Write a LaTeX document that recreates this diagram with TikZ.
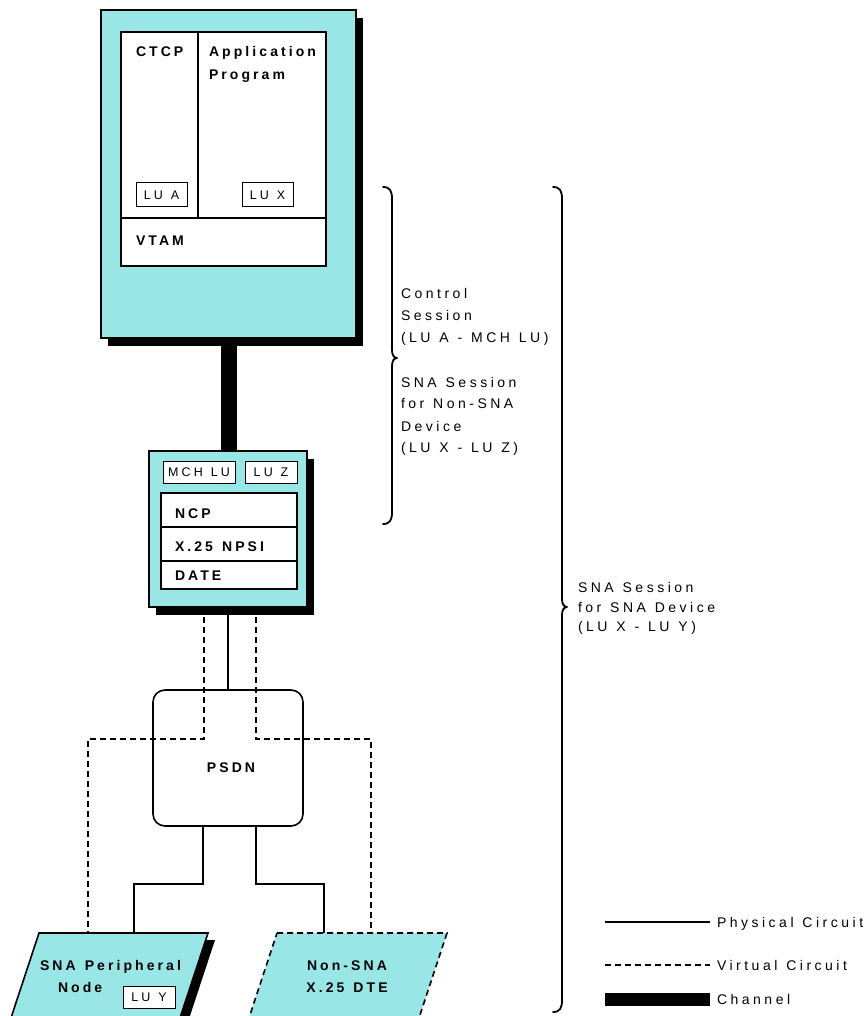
\documentclass[tikz,border=0pt]{standalone}
\usepackage{fontspec}
\setmainfont{Liberation Sans}[LetterSpace=25, WordSpace=1.2]
\newfontfamily\boldspaced{Liberation Sans Bold}[LetterSpace=22, WordSpace=1.3]
\usetikzlibrary{shadows}
\definecolor{boxcyan}{RGB}{152,230,230}
\newcommand\bracefig[4]{%
  \draw[bracepen] (#1-9,#2) .. controls (#1-2,#2) and (#1,#2+4) .. (#1,#2+12)
    -- (#1,#3-8) .. controls (#1,#3-3) and (#1+2,#3) .. (#1+5,#3)
    .. controls (#1+2,#3) and (#1,#3+3) .. (#1,#3+8)
    -- (#1,#4-12) .. controls (#1,#4-4) and (#1-2,#4) .. (#1-9,#4);}
\begin{document}
\begin{tikzpicture}[x=1pt,y=-1pt,
  base/.style={inner sep=0pt, outer sep=0pt},
  lbl/.style={base, font=\fontsize{14}{16}\selectfont, anchor=base west},
  blbl/.style={base, font=\fontsize{14}{16}\boldspaced, anchor=base west},
  cblbl/.style={base, font=\fontsize{14}{16}\boldspaced, anchor=base},
  cyanbox/.style={base, draw, line width=1.5pt, fill=boxcyan,
    drop shadow={shadow xshift=7pt, shadow yshift=-8pt, opacity=1, fill=black}},
  whitebox/.style={base, draw, fill=white, line width=1.5pt},
  lubox/.style={base, draw, fill=white, line width=1pt, font=\fontsize{12.5}{14}\selectfont},
  phys/.style={line width=1.6pt},
  virt/.style={line width=1.6pt, dash pattern=on 6pt off 4pt},
  chan/.style={line width=16pt},
  bracepen/.style={line width=1.8pt, line cap=round, line join=round}
]
\useasboundingbox (0,0) rectangle (867,1016);
\clip (0,0) rectangle (867,1016);
\fill[white] (0,0) rectangle (867,1016);

% host
\node[cyanbox, minimum width=255pt, minimum height=328pt] (host) at (228.5,174) {};
\node[whitebox, minimum width=205pt, minimum height=234pt] (hostin) at (223.5,149) {};
\draw[line width=1.2pt] (198,32) -- (198,218);
\draw[line width=1.2pt] (121,218) -- (326,218);
\node[blbl] (ctcp) at (136,57) {CTCP};
\node[blbl] (app) at (209,57) {Application};
\node[blbl] (prog) at (209,80) {Program};
\node[blbl] (vtam) at (136,245.5) {VTAM};
\node[lubox, minimum width=51pt, minimum height=24pt] (lua) at (161.5,195) {LU A};
\node[lubox, minimum width=51pt, minimum height=24pt] (lux) at (267.5,195) {LU X};

% ncp
\node[cyanbox, minimum width=158pt, minimum height=156pt] (ncp) at (228,529) {};
\node[lubox, minimum width=72pt, minimum height=22pt] (mchlu) at (199,472) {MCH LU};
\node[lubox, minimum width=52pt, minimum height=22pt] (luz) at (271,472) {LU Z};
\node[whitebox, line width=2pt, minimum width=136pt, minimum height=96pt] (stack) at (229,541) {};
\draw[line width=1.5pt] (161,527) -- (297,527);
\draw[line width=1.5pt] (161,561) -- (297,561);
\node[blbl] (ncptxt) at (175,518) {NCP};
\node[blbl] (npsi) at (175,551) {X.25 NPSI};
\node[blbl] (date) at (175,580) {DATE};

% channel
\draw[chan] (host.south) -- (host.south |- ncp.north);

% psdn
\node[base, draw, line width=1.6pt, rounded corners=12pt, fill=white,
      minimum width=150pt, minimum height=136pt] (psdn) at (228,758) {};
\node[cblbl] (psdntxt) at (231,772) {PSDN};

% end devices
\coordinate (periphV) at (88,933);
\coordinate (periphP) at (134,933);
\coordinate (nonsnaP) at (324,933);
\coordinate (nonsnaV) at (371,933);
\begin{scope}[shift={(7,7)}]
  \fill[black] (39,933) -- (208,933) -- (176,1030) -- (7,1030) -- cycle;
\end{scope}
\filldraw[fill=boxcyan, line width=1.6pt] (39,933) -- (208,933) -- (176,1030) -- (7,1030) -- cycle;
\filldraw[fill=boxcyan, line width=1.6pt, dash pattern=on 6pt off 4pt]
  (277,933) -- (447,933) -- (415,1030) -- (245,1030) -- cycle;
\node[blbl] (periph1) at (40,970) {SNA Peripheral};
\node[blbl] (periph2) at (58,992) {Node};
\node[lubox, minimum width=52pt, minimum height=22pt] (luy) at (149,997) {LU Y};
\node[cblbl] (nonsna1) at (347,970) {Non-SNA};
\node[cblbl] (nonsna2) at (347,992) {X.25 DTE};

% connectors
\draw[phys] (ncp.south) -- (psdn.north);
\draw[virt] ([xshift=-24pt]ncp.south) -- ++(0,132) -| (periphV);
\draw[virt] ([xshift=28pt]ncp.south) -- ++(0,132) -| (nonsnaV);
\draw[phys] ([xshift=-25pt]psdn.south) -- ++(0,58) -| (periphP);
\draw[phys] ([xshift=28pt]psdn.south) -- ++(0,58) -| (nonsnaP);

% braces
\bracefig{392}{187}{358}{524}
\bracefig{562}{187}{607}{1012}
\node[lbl] (s1) at (401,298) {Control};
\node[lbl] (s2) at (401,320) {Session};
\node[lbl] (s3) at (401,342) {(LU A - MCH LU)};
\node[lbl] (s4) at (401,387) {SNA Session};
\node[lbl] (s5) at (401,408) {for Non-SNA};
\node[lbl] (s6) at (401,431) {Device};
\node[lbl] (s7) at (401,452) {(LU X - LU Z)};
\node[lbl] (t1) at (578,592) {SNA Session};
\node[lbl] (t2) at (578,612) {for SNA Device};
\node[lbl] (t3) at (578,631) {(LU X - LU Y)};

% legend
\coordinate (lgp) at (605,922);
\coordinate (lgv) at (605,965);
\coordinate (lgc) at (605,999);
\node[lbl] (lphys) at (717,927) {Physical Circuit};
\node[lbl] (lvirt) at (717,970) {Virtual Circuit};
\node[lbl] (lchan) at (717,1004) {Channel};
\draw[phys] (lgp) -- ++(105,0);
\draw[virt] (lgv) -- ++(105,0);
\draw[line width=13pt] (lgc) -- ++(105,0);
\end{tikzpicture}
\end{document}
